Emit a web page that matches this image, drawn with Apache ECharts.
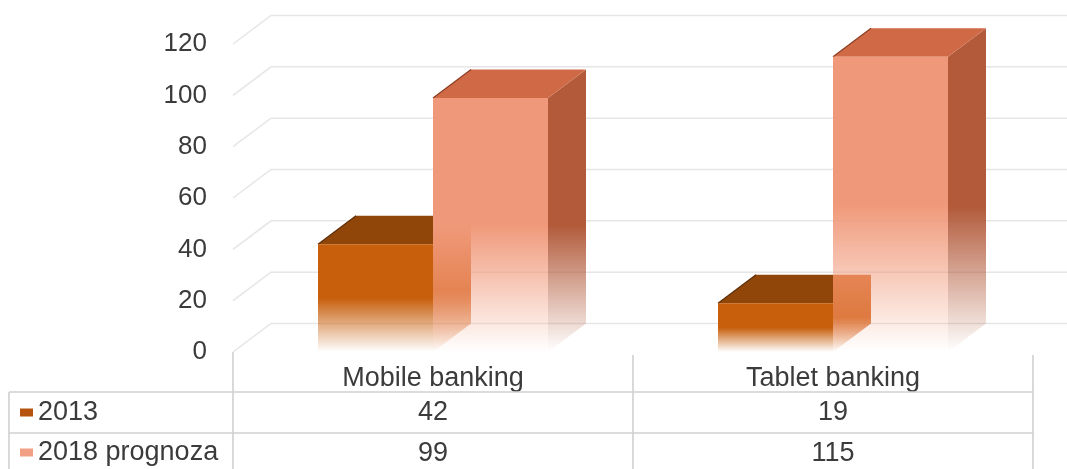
<!DOCTYPE html>
<html>
<head>
<meta charset="utf-8">
<script src="https://cdn.jsdelivr.net/npm/echarts@6/dist/echarts.min.js"></script>
<style>
  html, body { margin: 0; padding: 0; background: #ffffff; }
  #chart { width: 1067px; height: 469px; }
</style>
</head>
<body>
<div id="chart"></div>
<script>
// Chart data
const categories = ['Mobile banking', 'Tablet banking'];
const seriesNames = ['2013', '2018 prognoza'];
const values2013 = [42, 19];
const values2018 = [99, 115];
const yTicks = [0, 20, 40, 60, 80, 100, 120];

// Look and geometry
const FONT = '"Liberation Sans", Arial, Helvetica, sans-serif';
const TEXT = '#3b3b3b';
const DEPTH_X = 38;
const DEPTH_Y = -28.5;
const BAR_FRACTION = 115 / 400;
const GRID_COLOR = '#e6e6e6';
const TABLE_LINE = '#d0d0d0';

const palette = {
  '2013': { front: '#c75f0c', top: '#8f4608', side: '#d9702e', edge: '#5c2c06', key: '#b5540e' },
  '2018 prognoza': { front: '#f0997a', top: '#d06946', side: '#b25a3a', edge: '#8a3d22', key: '#f2a085' }
};

function rgba(hex, a) {
  const n = parseInt(hex.slice(1), 16);
  return 'rgba(' + ((n >> 16) & 255) + ',' + ((n >> 8) & 255) + ',' + (n & 255) + ',' + a + ')';
}

// vertical fill that stays solid at the top and fades out towards the floor
function fade(hex, solidUntil) {
  return new echarts.graphic.LinearGradient(0, 0, 0, 1, [
    { offset: 0, color: rgba(hex, 1) },
    { offset: solidUntil, color: rgba(hex, 1) },
    { offset: 1, color: rgba(hex, 0) }
  ]);
}

// 3D column: front face, top face and right side face
function barRenderer(name, side) {
  const col = palette[name];
  return function (params, api) {
    const idx = api.value(0);
    const top = api.coord([idx, api.value(1)]);
    const base = api.coord([idx, 0]);
    const w = api.size([1, 0])[0] * BAR_FRACTION;
    const x0 = side < 0 ? top[0] - w : top[0];
    const x1 = x0 + w;
    const yT = top[1];
    const yB = base[1];
    const dx = DEPTH_X, dy = DEPTH_Y;
    const children = [];

    // side face (the left column's side shows through its neighbour's fading front)
    const sidePts = side < 0
      ? [[x1, yT + dy], [x1 + dx, yT + dy], [x1 + dx, yB + dy], [x1, yB]]
      : [[x1, yT], [x1 + dx, yT + dy], [x1 + dx, yB + dy], [x1, yB]];
    children.push({
      type: 'polygon',
      shape: { points: sidePts },
      style: { fill: fade(col.side, 0.55) }
    });

    // top face
    const topPts = side < 0
      ? [[x0, yT], [x1, yT], [x1, yT + dy], [x0 + dx, yT + dy]]
      : [[x0, yT], [x1, yT], [x1 + dx, yT + dy], [x0 + dx, yT + dy]];
    children.push({
      type: 'polygon',
      shape: { points: topPts },
      style: { fill: col.top }
    });
    children.push({
      type: 'polyline',
      shape: { points: [[x0, yT], [x0 + dx, yT + dy]] },
      style: { stroke: col.edge, lineWidth: 1.2, fill: null }
    });

    // front face
    children.push({
      type: 'rect',
      shape: { x: x0, y: yT, width: w, height: yB - yT },
      style: { fill: fade(col.front, 0.5) }
    });

    return { type: 'group', children: children };
  };
}

// back-wall gridlines with the slanted run from the value axis
function gridRenderer(params, api) {
  const y = api.coord([0, api.value(1)])[1];
  const x = params.coordSys.x;
  return {
    type: 'polyline',
    silent: true,
    shape: { points: [[x, y], [x + DEPTH_X, y + DEPTH_Y], [api.getWidth(), y + DEPTH_Y]] },
    style: { stroke: GRID_COLOR, lineWidth: 1.5, fill: null }
  };
}

// data table below the plot: one column per category
function tableRenderer(params, api) {
  const idx = api.value(0);
  const c = api.coord([idx, 0]);
  const band = api.size([1, 0])[0];
  const left = c[0] - band / 2;
  const right = c[0] + band / 2;
  const y0 = c[1];
  const row1 = y0 + 40;
  const row2 = y0 + 81;
  const bottom = api.getHeight() + 10;
  const lineStyle = { stroke: TABLE_LINE, lineWidth: 1.6, fill: null };
  const children = [];

  children.push({ type: 'line', shape: { x1: left, y1: idx === 0 ? y0 : y0 + 3, x2: left, y2: bottom }, style: lineStyle });
  if (idx === categories.length - 1) {
    children.push({ type: 'line', shape: { x1: right, y1: y0 + 3, x2: right, y2: bottom }, style: lineStyle });
  }
  const hx0 = idx === 0 ? 9 : left;
  children.push({ type: 'line', shape: { x1: hx0, y1: row1, x2: right, y2: row1 }, style: lineStyle });
  children.push({ type: 'line', shape: { x1: hx0, y1: row2, x2: right, y2: row2 }, style: lineStyle });
  if (idx === 0) {
    children.push({ type: 'line', shape: { x1: 9, y1: row1, x2: 9, y2: bottom }, style: lineStyle });
  }

  const textStyle = (val, y) => ({
    type: 'text',
    style: {
      text: String(val), x: c[0], y: y,
      align: 'center', verticalAlign: 'middle',
      font: '27px ' + FONT, fill: TEXT
    }
  });
  children.push(textStyle(api.value(1), row1 + 21));
  children.push(textStyle(api.value(2), row2 + 21));
  return { type: 'group', children: children };
}

const chart = echarts.init(document.getElementById('chart'), null, { renderer: 'canvas' });

chart.setOption({
  animation: false,
  backgroundColor: '#ffffff',
  textStyle: { fontFamily: FONT },
  grid: { left: 233, right: 34, top: 44, bottom: 117, containLabel: false },
  xAxis: {
    type: 'category',
    data: categories,
    axisLine: { show: false },
    axisTick: { show: false },
    splitLine: { show: false },
    axisLabel: { fontSize: 27, color: TEXT, fontFamily: FONT, margin: 13 }
  },
  yAxis: {
    type: 'value',
    min: 0,
    max: 120,
    interval: 20,
    axisLine: { show: false },
    axisTick: { show: false },
    splitLine: { show: false },
    axisLabel: { fontSize: 26, color: TEXT, fontFamily: FONT, margin: 26 }
  },
  legend: {
    orient: 'vertical',
    left: 20,
    top: 399,
    width: 220,
    height: 200,
    padding: 0,
    icon: 'rect',
    itemWidth: 13,
    itemHeight: 8,
    itemGap: 13,
    selectedMode: false,
    textStyle: { fontSize: 27, color: TEXT, fontFamily: FONT },
    data: seriesNames.map(n => ({ name: n, itemStyle: { color: palette[n].key } }))
  },
  series: [
    {
      name: 'gridlines',
      type: 'custom',
      silent: true,
      z: 1,
      renderItem: gridRenderer,
      encode: { x: 0, y: 1 },
      data: yTicks.map(v => [0, v])
    },
    {
      name: seriesNames[0],
      type: 'custom',
      z: 2,
      renderItem: barRenderer(seriesNames[0], -1),
      encode: { x: 0, y: 1 },
      data: categories.map((c, i) => [i, values2013[i]])
    },
    {
      name: seriesNames[1],
      type: 'custom',
      z: 2,
      renderItem: barRenderer(seriesNames[1], 1),
      encode: { x: 0, y: 1 },
      data: categories.map((c, i) => [i, values2018[i]])
    },
    {
      name: 'table',
      type: 'custom',
      silent: true,
      z: 3,
      renderItem: tableRenderer,
      encode: { x: 0, y: 1 },
      data: categories.map((c, i) => [i, values2013[i], values2018[i]])
    }
  ]
});
</script>
</body>
</html>
